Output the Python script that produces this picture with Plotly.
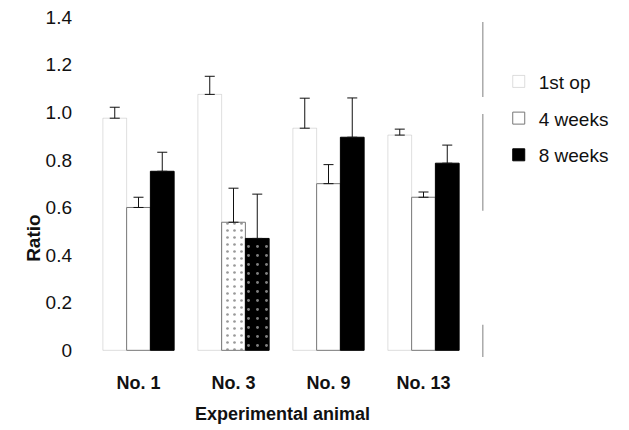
import plotly.graph_objects as go

categories = ["No. 1", "No. 3", "No. 9", "No. 13"]
first_op = [0.975, 1.075, 0.933, 0.904]
first_op_err = [0.046, 0.076, 0.126, 0.025]
weeks4 = [0.600, 0.538, 0.700, 0.643]
weeks4_err = [0.043, 0.143, 0.080, 0.022]
weeks8 = [0.752, 0.470, 0.895, 0.786]
weeks8_err = [0.080, 0.186, 0.165, 0.076]
y_ticks = [0, 0.2, 0.4, 0.6, 0.8, 1.0, 1.2, 1.4]
y_ticklabels = ["0", "0.2", "0.4", "0.6", "0.8", "1.0", "1.2", "1.4"]

FONT = "Liberation Sans, Arial, sans-serif"

def err(vals):
    return dict(type="data", symmetric=False, array=vals, arrayminus=[0] * len(vals),
                color="#111", thickness=1, width=5)

fig = go.Figure()
fig.add_trace(go.Bar(
    name="1st op", x=categories, y=first_op, error_y=err(first_op_err), legendgroup="a",
    marker=dict(color="white", line=dict(color="rgba(160,160,160,0.35)", width=1)),
))
fig.add_trace(go.Bar(
    name="4 weeks", x=categories, y=weeks4, error_y=err(weeks4_err), legendgroup="b",
    marker=dict(color="white", line=dict(color="#777", width=1),
                pattern=dict(shape=["", ".", "", ""], fgcolor="#999", size=7, solidity=0.12)),
))
fig.add_trace(go.Bar(
    name="8 weeks", x=categories, y=weeks8, error_y=err(weeks8_err), legendgroup="c",
    marker=dict(color="black", line=dict(color="black", width=1),
                pattern=dict(shape=["", ".", "", ""], fgcolor="white", fillmode="overlay",
                             size=9, solidity=0.08)),
))

fig.update_layout(
    template="none",
    width=629, height=430,
    margin=dict(l=91, r=158, t=17, b=73, autoexpand=False),
    paper_bgcolor="white", plot_bgcolor="white",
    barmode="group", bargap=0.25, bargroupgap=0,
    font=dict(family=FONT, color="#111", size=19),
    showlegend=True,
    legend=dict(x=1.073, xanchor="left", y=0.866, yanchor="top",
                font=dict(size=19, family=FONT), tracegroupgap=9,
                bgcolor="rgba(0,0,0,0)", itemwidth=30),
    xaxis=dict(showline=False, showgrid=False, zeroline=False, ticks="", automargin=False,
               tickfont=dict(size=18, family=FONT, weight="bold"),
               ticklabelstandoff=13, range=[-0.5, 3.5]),
    yaxis=dict(range=[-0.028, 1.4], showline=False, showgrid=False, zeroline=False,
               ticks="", tickvals=y_ticks, ticktext=y_ticklabels, automargin=False,
               tickfont=dict(size=19, family=FONT), ticklabelstandoff=18),
    annotations=[
        dict(text="<b>Ratio</b>", xref="paper", yref="paper", x=-0.153, y=0.35,
             xanchor="center", yanchor="middle", textangle=-90, showarrow=False,
             font=dict(size=19, family=FONT, color="#111")),
        dict(text="<b>Experimental animal</b>", xref="paper", yref="paper", x=0.503, y=-0.168,
             xanchor="center", yanchor="middle", showarrow=False,
             font=dict(size=18, family=FONT, color="#111")),
    ],
    shapes=[
        dict(type="line", xref="paper", yref="paper", x0=1.031, x1=1.031, y0=0.765, y1=0.985,
             line=dict(color="#aaa", width=1.5)),
        dict(type="line", xref="paper", yref="paper", x0=1.031, x1=1.031, y0=0.43, y1=0.715,
             line=dict(color="#aaa", width=1.5)),
        dict(type="line", xref="paper", yref="paper", x0=1.031, x1=1.031, y0=0.0, y1=0.095,
             line=dict(color="#aaa", width=1.5)),
    ],
)

fig.write_html("out.html", config={"displayModeBar": False},
               post_script="document.body.style.margin='0';document.body.style.padding='0';")
